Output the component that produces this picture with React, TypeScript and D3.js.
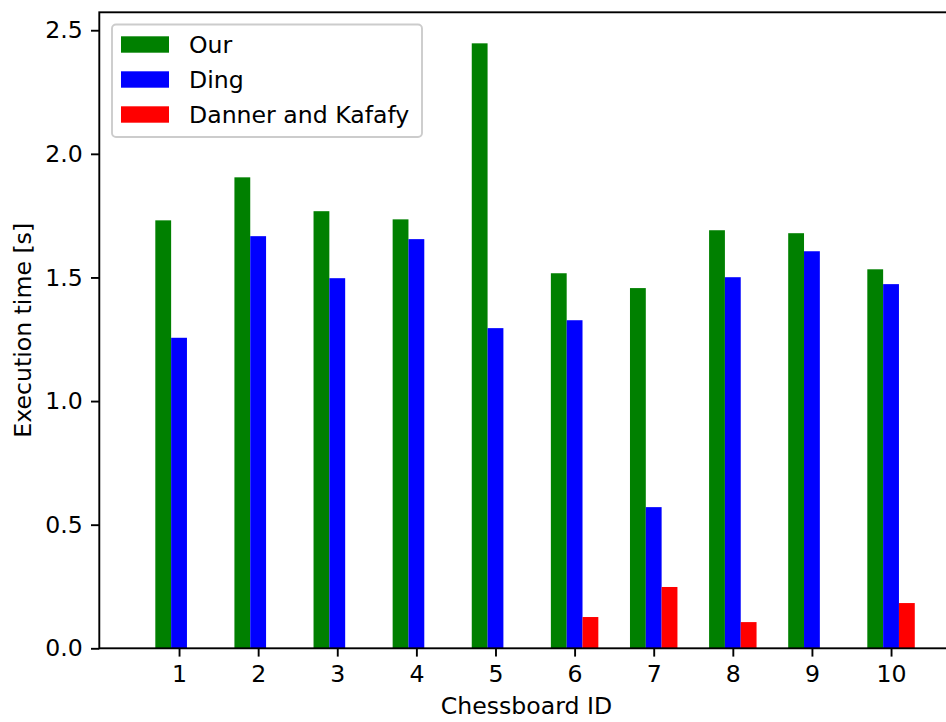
import React, { useEffect, useRef } from 'react'
import * as d3 from 'd3'

const boards = [1, 2, 3, 4, 5, 6, 7, 8, 9, 10]
const ourTimes = [1.731, 1.905, 1.768, 1.735, 2.447, 1.517, 1.457, 1.691, 1.679, 1.533]
const dingTimes = [1.256, 1.667, 1.497, 1.655, 1.295, 1.327, 0.571, 1.501, 1.606, 1.473]
const dannerTimes = [0, 0, 0, 0, 0, 0.1265, 0.248, 0.106, 0, 0.183]
const yTicks = [0.0, 0.5, 1.0, 1.5, 2.0, 2.5]

const seriesList = [
    { name: 'Our', color: 'green', values: ourTimes, offset: -0.2 },
    { name: 'Ding', color: 'blue', values: dingTimes, offset: 0 },
    { name: 'Danner and Kafafy', color: 'red', values: dannerTimes, offset: 0.2 },
]

export default function App() {
    const ref = useRef<SVGSVGElement | null>(null)

    const width = 946
    const height = 722
    const font = 'DejaVu Sans, sans-serif'
    const fs = 23.6

    function drawChart() {
        var svg = d3.select(ref.current)
        svg.selectAll('*').remove()

        var left = 99.3, right = 953.7, top = 12.3, bottom = 648.3
        var x = d3.scaleLinear().domain([-0.008, 10.792]).range([left, right])
        var y = d3.scaleLinear().domain([0, 2.5725]).range([bottom, top])
        var barW = x(0.2) - x(0)

        var g = svg.append('g')

        seriesList.forEach(function (s) {
            g.selectAll('rect.s' + s.name.length)
                .data(boards)
                .enter().append('rect')
                .attr('x', function (d) { return x(d + s.offset) - barW / 2 })
                .attr('y', function (d, i) { return y(s.values[i]) })
                .attr('width', barW)
                .attr('height', function (d, i) { return y(0) - y(s.values[i]) })
                .attr('fill', s.color)
        })

        // spines
        g.append('rect')
            .attr('x', left).attr('y', top)
            .attr('width', right - left).attr('height', bottom - top)
            .attr('fill', 'none').attr('stroke', 'black').attr('stroke-width', 1.9)

        // y axis
        var yAxis = d3.axisLeft(y).tickValues(yTicks).tickFormat(d3.format('.1f')).tickSize(8.3).tickPadding(8.3)
        var ya = g.append('g').attr('transform', 'translate(' + left + ',0)').call(yAxis)
        // x axis
        var xAxis = d3.axisBottom(x).tickValues(boards).tickFormat(d3.format('d')).tickSize(8.3).tickPadding(8.3)
        var xa = g.append('g').attr('transform', 'translate(0,' + bottom + ')').call(xAxis)

        ;[ya, xa].forEach(function (a) {
            a.select('.domain').remove()
            a.selectAll('line').attr('stroke', 'black').attr('stroke-width', 1.9)
            a.selectAll('text').attr('font-family', font).attr('font-size', fs).attr('fill', 'black')
        })

        g.append('text')
            .attr('x', (left + right) / 2).attr('y', 714)
            .attr('text-anchor', 'middle')
            .attr('font-family', font).attr('font-size', fs)
            .text('Chessboard ID')

        g.append('text')
            .attr('transform', 'translate(31,' + (top + bottom) / 2 + ') rotate(-90)')
            .attr('text-anchor', 'middle')
            .attr('font-family', font).attr('font-size', fs)
            .text('Execution time [s]')

        // legend
        var lg = g.append('g')
        lg.append('rect')
            .attr('x', 112).attr('y', 24.5)
            .attr('width', 310).attr('height', 112.5)
            .attr('rx', 4).attr('ry', 4)
            .attr('fill', 'white').attr('fill-opacity', 0.8)
            .attr('stroke', '#cccccc').attr('stroke-width', 1.9)
        seriesList.forEach(function (s, i) {
            var cy = 44.5 + i * 35
            lg.append('rect')
                .attr('x', 121).attr('y', cy - 8.2)
                .attr('width', 48).attr('height', 16.4)
                .attr('fill', s.color)
            lg.append('text')
                .attr('x', 189).attr('y', cy + 8.5)
                .attr('font-family', font).attr('font-size', fs)
                .text(s.name)
        })
    }

    useEffect(() => {
        drawChart()
    }, [])

    return (
        <div>
            <svg ref={ref} width={width} height={height}
                style={{ position: 'absolute', left: 0, top: 0, background: 'white' }} />
        </div>
    )
}
